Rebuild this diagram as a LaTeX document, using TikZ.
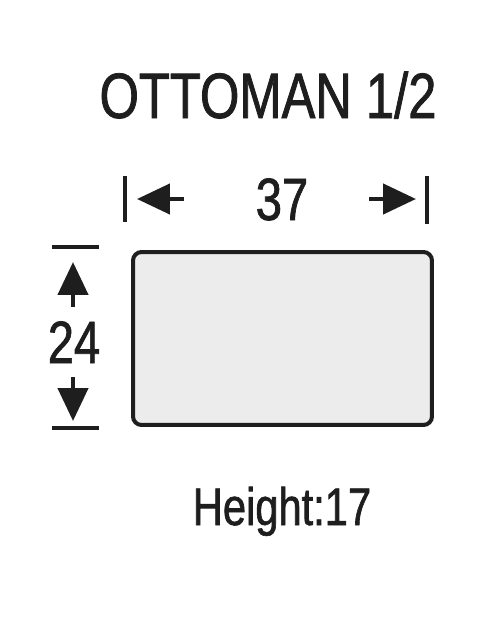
\documentclass[tikz,border=0pt]{standalone}
\usepackage{fontspec}
\setmainfont[FakeStretch=0.79,FakeBold=1.2]{Liberation Sans}
\usetikzlibrary{arrows.meta,positioning}
\definecolor{seatgray}{RGB}{236,236,236}
\definecolor{ink}{RGB}{30,30,30}
\tikzset{every node/.append style={inner sep=0pt, text=ink}}
\tikzset{bar/.style={draw=ink, line width=0.09cm}}
\tikzset{dimarrow/.style={draw=ink, line width=0.09cm, -{Triangle[length=0.66cm,width=0.6cm]}}}

\begin{document}
\begin{tikzpicture}[x=0.02cm,y=-0.02cm]
  \useasboundingbox (0,0) rectangle (496,626);
  % title and seat
  \node[anchor=base, font=\fontsize{36.5}{40}\selectfont] (title) at (268,118) {OTTOMAN 1/2};
  \node[draw=ink, line width=0.08cm, fill=seatgray, rounded corners=0.17cm,
        minimum width=5.98cm, minimum height=3.46cm] (seat) at (282.5,338.5) {};
  % width
  \node[anchor=base, font=\fontsize{34}{38}\selectfont] (width) at (282,220) {37};
  \coordinate (wl1) at (125,176); \coordinate (wl2) at (125,222);
  \coordinate (wr1) at (427,176); \coordinate (wr2) at (427,224);
  \coordinate (wlt) at (184,199); \coordinate (wlh) at (137,199);
  \coordinate (wrt) at (369,199); \coordinate (wrh) at (416,199);
  \draw[bar] (wl1) -- (wl2);
  \draw[bar] (wr1) -- (wr2);
  \draw[dimarrow] (wlt) -- (wlh);
  \draw[dimarrow] (wrt) -- (wrh);
  % depth
  \node[anchor=base, font=\fontsize{34}{38}\selectfont] (depth) at (74,363) {24};
  \coordinate (dt1) at (52,247); \coordinate (dt2) at (99,247);
  \coordinate (db1) at (52,428); \coordinate (db2) at (99,428);
  \coordinate (dtt) at (73,307); \coordinate (dth) at (73,262);
  \coordinate (dbt) at (73,377); \coordinate (dbh) at (73,421);
  \draw[bar] (dt1) -- (dt2);
  \draw[bar] (db1) -- (db2);
  \draw[dimarrow] (dtt) -- (dth);
  \draw[dimarrow] (dbt) -- (dbh);
  % height
  \node[anchor=base, font=\fontsize{30}{34}\selectfont] (height) at (282,525) {Height:17};
\end{tikzpicture}
\end{document}
